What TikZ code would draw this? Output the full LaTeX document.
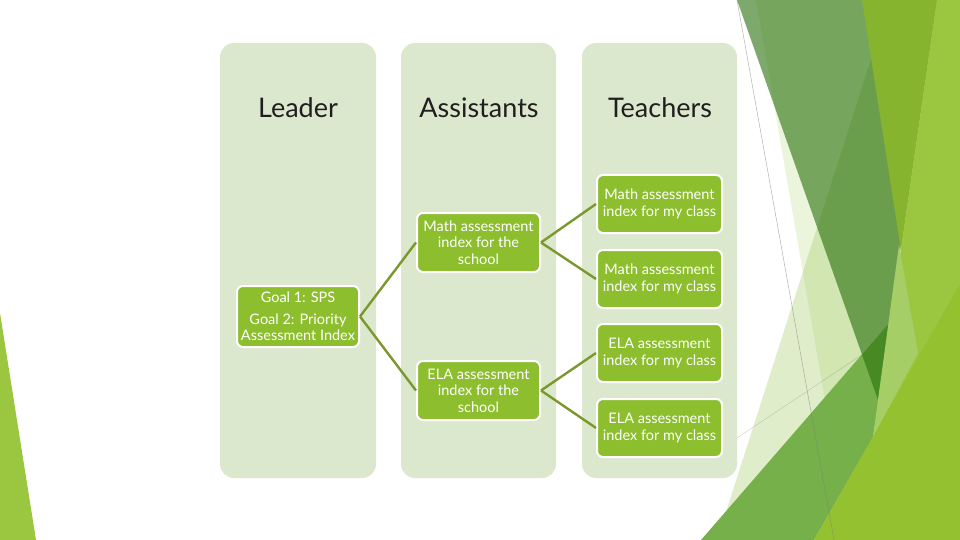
\documentclass[tikz,border=0pt]{standalone}
\usepackage{fontspec}
\setmainfont{Lato}

\definecolor{colfill}{HTML}{DCE8CE}
\definecolor{boxgreen}{HTML}{8CBE2E}
\definecolor{linkgreen}{HTML}{7A982C}
\definecolor{titlegrey}{HTML}{1F1F1F}
\definecolor{facetpale}{HTML}{8DC63F}
\definecolor{facetlight}{HTML}{8CBE3C}
\definecolor{facetdark}{HTML}{28700A}
\definecolor{facetolive}{HTML}{87B42F}
\definecolor{facetlime}{HTML}{9AC640}
\definecolor{facetmint}{HTML}{A6CE66}
\definecolor{facetgrass}{HTML}{93C12F}
\definecolor{facetgreen}{HTML}{76B04A}

\begin{document}
\begin{tikzpicture}[x=1pt,y=-1pt,
		column/.style={fill=colfill, rounded corners=14pt},
		heading/.style={font=\fontsize{27}{32}\selectfont, text=titlegrey},
		goalbox/.style={draw=white, line width=2pt, fill=boxgreen, rounded corners=6pt,
			text=white, align=center, inner sep=0pt, font=\fontsize{14.5}{16.5}\selectfont},
		link/.style={draw=linkgreen, line width=2.4pt}]
		\useasboundingbox (0,0) rectangle (960,540);
		
		% facets of the background
		\fill[facetlime] (0,313) -- (36,540) -- (0,540) -- cycle;
		\fill[facetpale, opacity=.18] (756,0) -- (960,0) -- (960,540) -- (849,540) -- cycle;
		\fill[facetlight, opacity=.27] (890,0) -- (960,0) -- (960,540) -- (717,540) -- cycle;
		\fill[facetgreen] (701,540) -- (891,321) -- (873,437) -- (814,540) -- cycle;
		\fill[facetdark, opacity=.6] (737,0) -- (937,0) -- (878,400) -- cycle;
		\fill[facetolive] (862,0) -- (937,0) -- (901,250) -- cycle;
		\fill[facetlime] (937,0) -- (960,0) -- (960,540) -- (859,540) -- cycle;
		\fill[facetmint] (899,245) -- (918,353) -- (873,437) -- cycle;
		\fill[facetgrass] (960,284) -- (960,540) -- (814,540) -- cycle;
		\draw[gray, opacity=.6, line width=.5pt] (737,0) -- (834,540);
		\draw[gray, opacity=.35, line width=.5pt] (737,438) -- (872,348);
		
		% the three columns
		\fill[column] (220,43) rectangle (376,478);
		\fill[column] (401,43) rectangle (556,478);
		\fill[column] (582,43) rectangle (737,478);
		
		\node[heading] (leader) at (298,108) {Leader};
		\node[heading] (assistants) at (479,108) {Assistants};
		\node[heading] (teachers) at (660,108) {Teachers};
		
		\node[goalbox, minimum width=122pt, minimum height=61pt] (goal) at (298,316.5)
			{Goal 1: SPS\\[5pt]Goal 2: Priority\\Assessment Index};
		
		\node[goalbox, minimum width=123pt, minimum height=59pt] (mathschool) at (478.5,242.5)
			{Math assessment\\index for the\\school};
		\node[goalbox, minimum width=123pt, minimum height=59pt] (elaschool) at (478.5,390.5)
			{ELA assessment\\index for the\\school};
		
		\node[goalbox, minimum width=125pt, minimum height=58pt] (mathone) at (659.5,204)
			{Math assessment\\index for my class};
		\node[goalbox, minimum width=125pt, minimum height=58pt] (mathtwo) at (659.5,279)
			{Math assessment\\index for my class};
		\node[goalbox, minimum width=125pt, minimum height=58pt] (elaone) at (659.5,353)
			{ELA assessment\\index for my class};
		\node[goalbox, minimum width=125pt, minimum height=58pt] (elatwo) at (659.5,428)
			{ELA assessment\\index for my class};
		
		\draw[link] (goal.east) -- (mathschool.west);
		\draw[link] (goal.east) -- (elaschool.west);
		\draw[link] (mathschool.east) -- (mathone.west);
		\draw[link] (mathschool.east) -- (mathtwo.west);
		\draw[link] (elaschool.east) -- (elaone.west);
		\draw[link] (elaschool.east) -- (elatwo.west);
\end{tikzpicture}
\end{document}
